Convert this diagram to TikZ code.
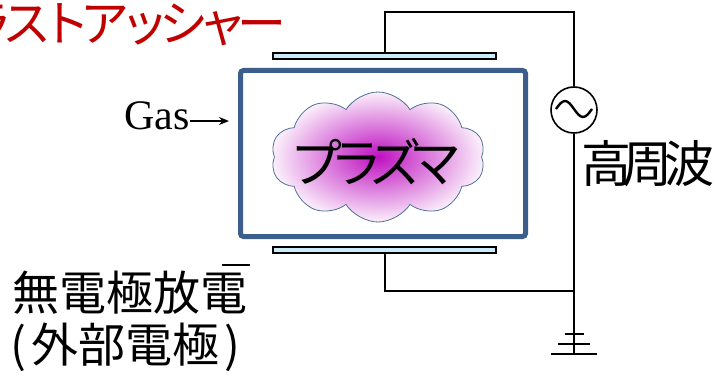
\documentclass[tikz,border=0pt]{standalone}
\usepackage{fontspec}
\setmainfont{Liberation Serif}
\newfontfamily\jp{Noto Sans CJK JP}
\newfontfamily\jptight{Noto Sans CJK JP}[LetterSpace=-23]
\newfontfamily\jpkanji{Noto Sans CJK JP}[LetterSpace=-17]
\newcommand\kanacell[1]{\makebox[39.2pt][c]{#1}}
\usetikzlibrary{shapes.symbols,arrows.meta}
\definecolor{chamberblue}{HTML}{3B5E8C}
\definecolor{platefill}{HTML}{CCEBFA}
\definecolor{titlered}{HTML}{C00000}
\definecolor{plasmacore}{HTML}{BE10C0}
\definecolor{plasmaedge}{HTML}{FBF0FB}
\definecolor{cloudline}{HTML}{50709A}
\begin{document}
\begin{tikzpicture}[x=1pt,y=-1pt,
  wire/.style={line width=2pt},
  plate/.style={draw,line width=1.8pt,fill=platefill,minimum width=223pt,
    minimum height=6pt,inner sep=0pt},
  chamber/.style={draw=chamberblue,line width=5pt,rounded corners=3pt,
    minimum width=285pt,minimum height=166pt,inner sep=0pt},
  plasma/.style={cloud,cloud puffs=10,cloud puff arc=115,cloud ignores aspect,
    minimum width=214pt,minimum height=130pt,inner sep=0pt,
    draw=cloudline,line width=0.8pt,inner color=plasmacore,outer color=plasmaedge},
  source/.style={circle,draw,line width=1.6pt,minimum size=46pt,inner sep=0pt},
  jplabel/.style={font=\jp,inner sep=0pt}]
\useasboundingbox (0,0) rectangle (717,377);

% heading (runs off the left edge), one fixed-width cell per kana
\node[jplabel,anchor=west,text=titlered,font=\jp\fontsize{49}{49}\selectfont]
  (title) at (-32.1,25)
  {\kanacell{ラ}\kanacell{ス}\kanacell{ト}\kanacell{ア}\kanacell{ッ}\kanacell{シ}\kanacell{ャ}\kanacell{ー}};

% discharge chamber with external electrodes
\node[chamber] (ch) at (383,153.5) {};
\node[plate] (topplate) at (384.5,56) {};
\node[plate] (botplate) at (384.5,250) {};

% plasma cloud
\node[plasma] (cloud) at (378,157) {};
\node[jplabel,font=\jptight\fontsize{52}{52}\selectfont] (plasmatext) at (376,162) {プラズマ};

% gas inlet
\node[inner sep=0pt,anchor=east,font=\fontsize{42}{42}\selectfont] (gas) at (190,116) {Gas};
\coordinate (inlet) at (229,121);
\draw[wire,-{Stealth[length=10pt,width=8pt]}] (gas.east |- inlet) -- (inlet);

% RF source and wiring
\node[source] (rf) at (574,110) {};
\draw[line width=2.4pt] ([xshift=-18pt,yshift=1pt]rf.center) sin ++(9,-8) cos ++(9,8)
  sin ++(9,8) cos ++(9,-8);
\node[jplabel,font=\jpkanji\fontsize{50}{50}\selectfont,anchor=west] (rflabel) at (581,164) {高周波};

\coordinate (gnd) at (574,354);
\draw[wire] (topplate.north) -- ++(0,-40) -| (rf.north);
\draw[wire] (rf.south) -- (gnd);
\draw[wire] (botplate.south) |- (rf.south |- 0,291);

% ground symbol
\draw[wire] ([xshift=-23pt]gnd) -- ([xshift=23pt]gnd);
\draw[wire] ([shift={(-16pt,10pt)}]gnd) -- ([shift={(16pt,10pt)}]gnd);
\draw[wire] ([shift={(-9.5pt,20pt)}]gnd) -- ([shift={(9.5pt,20pt)}]gnd);

% caption
\node[jplabel,font=\jp\fontsize{47}{47}\selectfont,anchor=west] (cap1) at (12,293) {無電極放電};
\node[jplabel,font=\jp\fontsize{47}{47}\selectfont,anchor=west] (cap2) at (10,347)
  {(\kern5pt外部電極\kern5pt)};
\draw[wire] (222,265) -- (250,265);
\end{tikzpicture}
\end{document}
